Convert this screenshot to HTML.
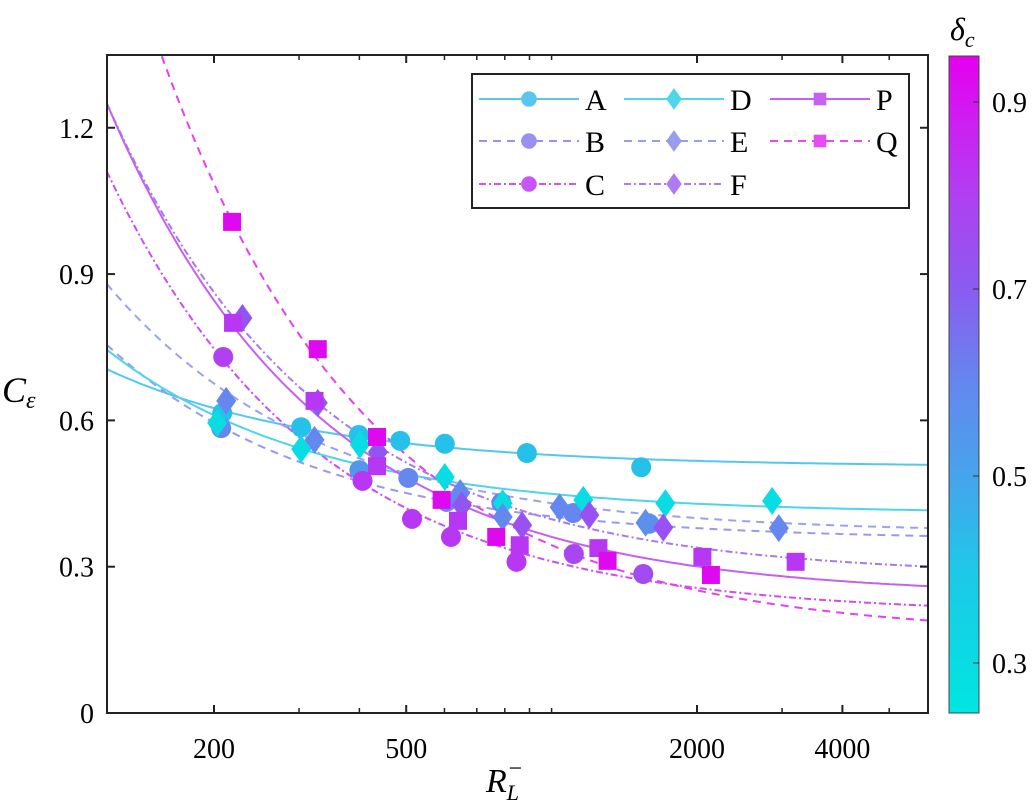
<!DOCTYPE html>
<html><head><meta charset="utf-8"><style>
body{margin:0;background:#fff;}
svg{display:block;font-family:"Liberation Serif",serif;}
</style></head><body>
<svg id="chart" width="1035" height="809" viewBox="0 0 1035 809" xmlns="http://www.w3.org/2000/svg">
<defs>
<linearGradient id="cmap" x1="0" y1="1" x2="0" y2="0">
<stop offset="0" stop-color="#00e6e0"/><stop offset="0.214" stop-color="#1ec8e8"/><stop offset="0.357" stop-color="#46a4ec"/><stop offset="0.5" stop-color="#6488ee"/><stop offset="0.643" stop-color="#8a5cf0"/><stop offset="0.786" stop-color="#b040f2"/><stop offset="1" stop-color="#e600f0"/>
</linearGradient>
<clipPath id="clip"><rect x="107" y="55" width="821" height="658"/></clipPath>
</defs>
<g id="fits" clip-path="url(#clip)"></g>
<g id="marks" clip-path="url(#clip)"></g>
<g id="axes"></g>
<rect x="107" y="55" width="821" height="658" fill="none" stroke="#222" stroke-width="2"/>
<g>
<rect x="472" y="74" width="437" height="134" fill="#fff" stroke="#222" stroke-width="2"/>
<g id="legendItems"></g>
</g>
<g>
<rect x="949" y="56" width="30" height="657" fill="url(#cmap)" stroke="#444" stroke-width="1"/>
<g id="cbticks"></g>
<text x="950" y="40" font-size="32" font-style="italic">δ<tspan font-size="22" dy="7">c</tspan></text>
</g>
<text x="2" y="402" font-size="36" font-style="italic">C<tspan font-size="24" dy="6">ε</tspan></text>
<text x="486" y="792" font-size="34" font-style="italic">R<tspan font-size="22" dy="8">L</tspan><tspan font-size="24" dy="-24" dx="-12">−</tspan></text>
</svg>
<script>
const seriesNames=['A','B','C','D','E','F','P','Q'];
const A_R=[208,303,399,486,601,889,1533]; const A_C=[0.615,0.586,0.570,0.558,0.552,0.533,0.504]; const A_D=[0.42,0.42,0.42,0.42,0.42,0.42,0.42];
const B_R=[207,400,505,606,787,1109,1594]; const B_C=[0.584,0.498,0.482,0.433,0.431,0.41,0.388]; const B_D=[0.6,0.55,0.6,0.6,0.6,0.6,0.58];
const C_R=[209,406,514,619,846,1112,1548]; const C_C=[0.730,0.476,0.398,0.361,0.310,0.326,0.285]; const C_D=[0.8,0.82,0.82,0.82,0.82,0.78,0.76];
const D_R=[203,303,401,601,792,1163,1720,2861]; const D_C=[0.595,0.541,0.55,0.484,0.43,0.437,0.43,0.435]; const D_D=[0.3,0.3,0.3,0.3,0.3,0.3,0.3,0.3];
const E_R=[212,323,647,792,1039,1565,2954]; const E_C=[0.64,0.56,0.451,0.402,0.422,0.39,0.379]; const E_D=[0.6,0.6,0.6,0.6,0.6,0.57,0.6];
const F_R=[229,328,437,652,869,1197,1703]; const F_C=[0.81,0.636,0.535,0.426,0.385,0.406,0.38]; const F_D=[0.72,0.7,0.72,0.72,0.74,0.74,0.74];
const P_R=[219,323,435,640,859,1250,2052,3201]; const P_C=[0.80,0.64,0.506,0.394,0.344,0.338,0.32,0.31]; const P_D=[0.82,0.82,0.82,0.82,0.82,0.82,0.82,0.82];
const Q_R=[218,328,435,592,768,1306,2137]; const Q_C=[1.007,0.746,0.566,0.437,0.361,0.312,0.283]; const Q_D=[0.93,0.93,0.93,0.93,0.93,0.93,0.93];
const fitCinf=[0.505,0.355,0.202,0.409,0.369,0.281,0.24,0.159];
const fitK=[24.0,48.0,109,40.3,61.3,116.3,121.2,185.2];
const xTickLabels=[200,500,2000,4000];
const xMinorTicks=[300,400,600,700,800,900,1000,3000,5000];
const yTickLabels=[0,0.3,0.6,0.9,1.2];
const cbTickLabels=[0.3,0.5,0.7,0.9];

const data={A:[A_R,A_C,A_D],B:[B_R,B_C,B_D],C:[C_R,C_C,C_D],D:[D_R,D_C,D_D],E:[E_R,E_C,E_D],F:[F_R,F_C,F_D],P:[P_R,P_C,P_D],Q:[Q_R,Q_C,Q_D]};
const shapes={A:'c',B:'c',C:'c',D:'d',E:'d',F:'d',P:'s',Q:'s'};
const dashes={A:'',B:'8,6',C:'7,3,2,3',D:'',E:'8,6',F:'7,3,2,3',P:'',Q:'8,6'};
const lineCol={A:'#52c8ee',B:'#9a98f2',C:'#cc4cf5',D:'#4fd4ec',E:'#9aa0f2',F:'#a878f0',P:'#c460f2',Q:'#e440f2'};
const legCol={A:'#5ac6ee',B:'#9a90f0',C:'#c855f5',D:'#50d6ea',E:'#9a9cf0',F:'#b07af2',P:'#c860f0',Q:'#e64cf2'};
const xs=v=>214+483*Math.log10(v/200);
const ys=v=>713-487.7*v;
const cb=v=>663-(v-0.3)/0.2*187;
const stops=[[0.25,[0,230,224]],[0.4,[30,200,232]],[0.5,[70,164,236]],[0.6,[100,136,238]],[0.7,[138,92,240]],[0.8,[176,64,242]],[0.95,[230,0,240]]];
function cmap(d){d=Math.max(0.25,Math.min(0.95,d));for(let i=0;i<stops.length-1;i++){const a=stops[i],b=stops[i+1];if(d<=b[0]){const t=(d-a[0])/(b[0]-a[0]);const c=a[1].map((x,j)=>Math.round(x+(b[1][j]-x)*t));return `rgb(${c})`;}}return 'rgb(230,0,240)';}
const NS='http://www.w3.org/2000/svg';
function mk(tag,attrs,parent){const e=document.createElementNS(NS,tag);for(const k in attrs)e.setAttribute(k,attrs[k]);parent.appendChild(e);return e;}
const fits=document.getElementById('fits'),marks=document.getElementById('marks'),axes=document.getElementById('axes');
function marker(shape,cx,cy,s,fill,parent,name){let e;
 if(shape==='c')e=mk('circle',{cx:cx,cy:cy,r:10*s,fill:fill},parent);
 else if(shape==='d')e=mk('polygon',{points:`${cx},${cy-14*s} ${cx+10*s},${cy} ${cx},${cy+14*s} ${cx-10*s},${cy}`,fill:fill},parent);
 else e=mk('rect',{x:cx-9*s,y:cy-9*s,width:18*s,height:18*s,fill:fill},parent);
 
 
 return e;}
seriesNames.forEach((n,i)=>{
 let d='';for(let j=0;j<=200;j++){const lr=Math.log10(120)+j/200*(Math.log10(6100)-Math.log10(120));const r=Math.pow(10,lr);d+=(j?'L':'M')+xs(r).toFixed(1)+','+ys(fitCinf[i]+fitK[i]/r).toFixed(1);}
 const p=mk('path',{d:d,fill:'none',stroke:lineCol[n],'stroke-width':2,'stroke-dasharray':dashes[n]},fits);
 
 
});
seriesNames.forEach(n=>{const [R,C,D]=data[n];R.forEach((r,j)=>{marker(shapes[n],xs(r),ys(C[j]),1,cmap(D[j]),marks,'marker-'+n.toLowerCase());});});
xTickLabels.forEach(v=>{const x=xs(v);
 mk('line',{x1:x,y1:713,x2:x,y2:705,stroke:'#222','stroke-width':2},axes);
 mk('line',{x1:x,y1:55,x2:x,y2:63,stroke:'#222','stroke-width':2},axes);
 const t=mk('text',{x:x,y:758,'font-size':28,'text-anchor':'middle'},axes);t.textContent=v;
 
 });
xMinorTicks.forEach(v=>{const x=xs(v);
 mk('line',{x1:x,y1:713,x2:x,y2:708,stroke:'#222','stroke-width':1.5},axes);
 mk('line',{x1:x,y1:55,x2:x,y2:60,stroke:'#222','stroke-width':1.5},axes);});
yTickLabels.forEach(v=>{const y=ys(v);
 mk('line',{x1:107,y1:y,x2:115,y2:y,stroke:'#222','stroke-width':2},axes);
 mk('line',{x1:928,y1:y,x2:920,y2:y,stroke:'#222','stroke-width':2},axes);
 const t=mk('text',{x:94,y:y+10,'font-size':28,'text-anchor':'end'},axes);t.textContent=v;
 
 });
const cbt=document.getElementById('cbticks');
cbTickLabels.forEach(v=>{const y=cb(v);
 mk('line',{x1:973,y1:y,x2:979,y2:y,stroke:'#333','stroke-width':1},cbt);
 const t=mk('text',{x:992,y:y+10,'font-size':28},cbt);t.textContent=v;
 
 });
const li=document.getElementById('legendItems');
const legPos={A:[479,99],B:[479,141],C:[479,184],D:[624,99],E:[624,141],F:[624,184],P:[770,99],Q:[770,141]};
seriesNames.forEach(n=>{const [x,y]=legPos[n];
 const g=mk('g',{},li);
 
 
 mk('line',{x1:x,y1:y,x2:x+100,y2:y,stroke:legCol[n],'stroke-width':2,'stroke-dasharray':dashes[n]},g);
 marker(shapes[n],x+50,y,shapes[n]==='s'?0.7:0.78,legCol[n],g,'legend-marker');
 const t=mk('text',{x:x+106,y:y+11,'font-size':30},g);t.textContent=n;});
</script>
</body></html>
